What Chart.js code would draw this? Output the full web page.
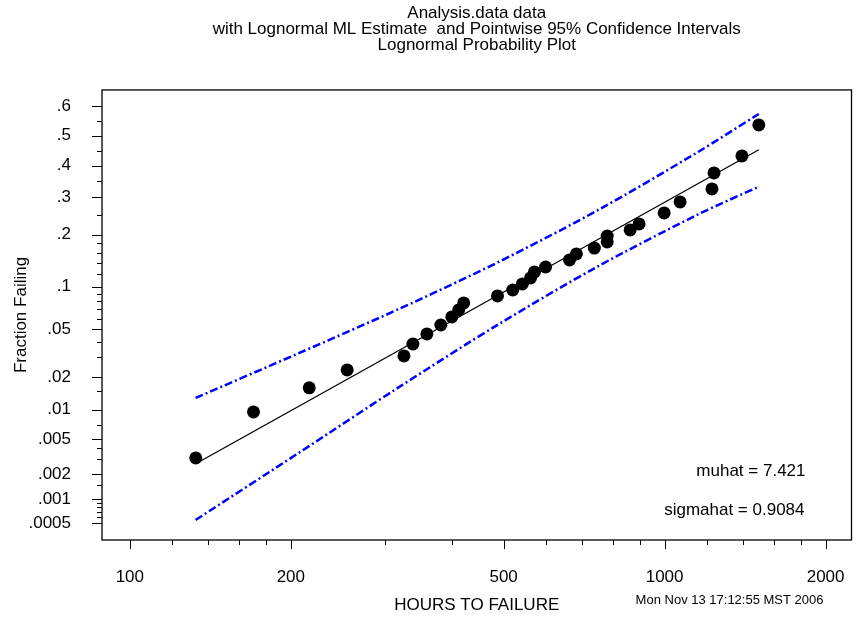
<!DOCTYPE html>
<html>
<head>
<meta charset="utf-8">
<title>Lognormal Probability Plot</title>
<script src="https://cdn.jsdelivr.net/npm/chart.js@4.4.1/dist/chart.umd.min.js"></script>
<style>
  html, body { margin: 0; padding: 0; background: #fff; }
  canvas { display: block; }
</style>
</head>
<body>
<canvas id="prob-plot" width="858" height="617"></canvas>
<script>
(function () {
  'use strict';

  // failure times (hours) and their plotting positions
  var hours = [132.8, 170.3, 216.5, 254.9, 325.5, 338.3, 359.3, 381.5, 400, 412, 421, 487, 520, 542, 561.5,
    571, 599, 664, 684, 739, 781, 781, 862, 896, 998, 1069, 1226, 1237, 1395, 1500];
  var fractionFailing = [0.00309, 0.00946, 0.0161, 0.0233, 0.0307, 0.0384, 0.0461, 0.0539, 0.0618, 0.0694,
    0.0777, 0.0868, 0.0950, 0.104, 0.1135, 0.1236, 0.1324, 0.1457, 0.1577, 0.170, 0.1834, 0.197, 0.2117,
    0.2268, 0.2559, 0.2869, 0.3256, 0.376, 0.4319, 0.5366];

  // lognormal ML estimates
  var muhat = 7.421;
  var sigmahat = 0.9084;
  var fitHours = [132.8, 1500];

  // pointwise 95% confidence bands
  var bandHours = [132.7, 207.4, 318.6, 489.3, 751.6, 1154.6, 1500];
  var upperBand = [0.01293, 0.03246, 0.0705, 0.1418, 0.2642, 0.4453, 0.5735];
  var lowerBand = [0.000547, 0.00355, 0.01633, 0.0546, 0.1339, 0.2518, 0.3327];

  var xMajorTicks = [100, 200, 500, 1000, 2000];
  var xMinorTicks = [120, 140, 160, 180, 300, 400, 600, 700, 800, 900, 1200, 1400, 1600, 1800];
  var xRange = [88.7, 2236];

  var yMajorTicks = [0.0005, 0.001, 0.002, 0.005, 0.01, 0.02, 0.05, 0.1, 0.2, 0.3, 0.4, 0.5, 0.6];
  var yTickLabels = ['.0005', '.001', '.002', '.005', '.01', '.02', '.05', '.1', '.2', '.3', '.4', '.5', '.6'];
  var yMinorTicks = [0.55, 0.45, 0.35, 0.25, 0.18, 0.16, 0.14, 0.12, 0.09, 0.08, 0.07, 0.06, 0.04, 0.03,
    0.015, 0.007, 0.004, 0.003, 0.0015, 0.0009, 0.0008, 0.0007, 0.0006];
  var yRange = [0.000296, 0.6515];

  var titleLines = ['Analysis.data data',
    'with Lognormal ML Estimate  and Pointwise 95% Confidence Intervals',
    'Lognormal Probability Plot'];
  var stamp = 'Mon Nov 13 17:12:55 MST 2006';

  var FONT = '"Liberation Sans", Arial, Helvetica, sans-serif';

  // standard normal quantile (Acklam's rational approximation)
  function qnorm(p) {
    var a = [-3.969683028665376e+01, 2.209460984245205e+02, -2.759285104469687e+02,
      1.383577518672690e+02, -3.066479806614716e+01, 2.506628277459239e+00];
    var b = [-5.447609879822406e+01, 1.615858368580409e+02, -1.556989798598866e+02,
      6.680131188771972e+01, -1.328068155288572e+01];
    var c = [-7.784894002430293e-03, -3.223964580411365e-01, -2.400758277161838e+00,
      -2.549732539343734e+00, 4.374664141464968e+00, 2.938163982698783e+00];
    var d = [7.784695709041462e-03, 3.224671290700398e-01, 2.445134137142996e+00,
      3.754408661907416e+00];
    var plow = 0.02425, q, r;
    if (p < plow) {
      q = Math.sqrt(-2 * Math.log(p));
      return (((((c[0] * q + c[1]) * q + c[2]) * q + c[3]) * q + c[4]) * q + c[5]) /
        ((((d[0] * q + d[1]) * q + d[2]) * q + d[3]) * q + 1);
    }
    if (p > 1 - plow) {
      q = Math.sqrt(-2 * Math.log(1 - p));
      return -(((((c[0] * q + c[1]) * q + c[2]) * q + c[3]) * q + c[4]) * q + c[5]) /
        ((((d[0] * q + d[1]) * q + d[2]) * q + d[3]) * q + 1);
    }
    q = p - 0.5;
    r = q * q;
    return (((((a[0] * r + a[1]) * r + a[2]) * r + a[3]) * r + a[4]) * r + a[5]) * q /
      (((((b[0] * r + b[1]) * r + b[2]) * r + b[3]) * r + b[4]) * r + 1);
  }

  function toPoints(xs, ps) {
    return xs.map(function (x, i) { return { x: x, y: qnorm(ps[i]) }; });
  }

  var fitLine = fitHours.map(function (t) {
    return { x: t, y: (Math.log(t) - muhat) / sigmahat };
  });

  // frame, tick marks and the text annotations
  var decorations = {
    id: 'decorations',
    afterDraw: function (chart) {
      var ctx = chart.ctx;
      var area = chart.chartArea;
      var xs = chart.scales.x;
      var ys = chart.scales.y;

      ctx.save();
      ctx.strokeStyle = '#000';
      ctx.lineWidth = 1.3;
      ctx.strokeRect(area.left, area.top, area.right - area.left, area.bottom - area.top);

      ctx.lineWidth = 1;
      ctx.beginPath();
      function xTick(v, len) {
        var px = Math.round(xs.getPixelForValue(v)) + 0.5;
        ctx.moveTo(px, area.bottom);
        ctx.lineTo(px, area.bottom + len);
      }
      function yTick(p, len) {
        var py = Math.round(ys.getPixelForValue(qnorm(p))) + 0.5;
        ctx.moveTo(area.left, py);
        ctx.lineTo(area.left - len, py);
      }
      xMajorTicks.forEach(function (v) { xTick(v, 9); });
      xMinorTicks.forEach(function (v) { xTick(v, 5); });
      yMajorTicks.forEach(function (p) { yTick(p, 10); });
      yMinorTicks.forEach(function (p) { yTick(p, 5); });
      ctx.stroke();

      ctx.fillStyle = '#000';
      ctx.textBaseline = 'middle';
      ctx.textAlign = 'right';
      ctx.font = '17px ' + FONT;
      ctx.fillText('muhat = ' + muhat.toFixed(3), area.right - 46, 471);
      ctx.fillText('sigmahat = ' + sigmahat.toFixed(4), area.right - 47, 510);
      ctx.font = '13px ' + FONT;
      ctx.fillText(stamp, area.right - 28, 600);
      ctx.restore();
    }
  };

  var canvas = document.getElementById('prob-plot');
  Chart.defaults.font.family = FONT;
  Chart.defaults.font.size = 17;
  Chart.defaults.color = '#000';

  new Chart(canvas, {
    type: 'scatter',
    data: {
      datasets: [
        {
          label: 'Data',
          data: toPoints(hours, fractionFailing),
          pointRadius: 6.5,
          pointBackgroundColor: '#000',
          pointBorderWidth: 0,
          showLine: false
        },
        {
          label: 'ML fit',
          data: fitLine,
          showLine: true,
          borderColor: '#000',
          borderWidth: 1.3,
          pointRadius: 0,
          tension: 0
        },
        {
          label: 'Upper 95%',
          data: toPoints(bandHours, upperBand),
          showLine: true,
          borderColor: '#0000ff',
          borderWidth: 2.5,
          borderDash: [8, 3, 2, 3],
          pointRadius: 0,
          tension: 0.3
        },
        {
          label: 'Lower 95%',
          data: toPoints(bandHours, lowerBand),
          showLine: true,
          borderColor: '#0000ff',
          borderWidth: 2.5,
          borderDash: [8, 3, 2, 3],
          pointRadius: 0,
          tension: 0.3
        }
      ]
    },
    options: {
      responsive: false,
      animation: false,
      devicePixelRatio: 1,
      layout: { padding: { left: 0, right: 3, top: 0, bottom: 0 } },
      plugins: {
        legend: { display: false },
        tooltip: { enabled: false },
        title: {
          display: true,
          text: titleLines,
          fullSize: false,
          color: '#000',
          font: { size: 17, weight: 'normal', lineHeight: 0.95 },
          padding: { top: 5, bottom: 36.5 }
        }
      },
      scales: {
        x: {
          type: 'logarithmic',
          min: xRange[0],
          max: xRange[1],
          grid: { display: false },
          border: { display: false },
          afterBuildTicks: function (scale) {
            scale.ticks = xMajorTicks.map(function (v) { return { value: v }; });
          },
          afterFit: function (scale) {
            scale.height = 77;
            scale.paddingLeft = 0;
            scale.paddingRight = 0;
          },
          ticks: {
            autoSkip: false,
            maxRotation: 0,
            padding: 19,
            callback: function (value, index) { return String(xMajorTicks[index]); }
          },
          title: {
            display: true,
            text: 'HOURS TO FAILURE',
            padding: { top: 0, bottom: 1 }
          }
        },
        y: {
          type: 'linear',
          min: qnorm(yRange[0]),
          max: qnorm(yRange[1]),
          grid: { display: false },
          border: { display: false },
          afterBuildTicks: function (scale) {
            scale.ticks = yMajorTicks.map(function (p) { return { value: qnorm(p) }; });
          },
          afterFit: function (scale) {
            scale.width = 102;
            scale.paddingTop = 0;
            scale.paddingBottom = 0;
          },
          ticks: {
            autoSkip: false,
            padding: 23,
            callback: function (value, index) { return yTickLabels[index]; }
          },
          title: {
            display: true,
            text: 'Fraction Failing',
            padding: { top: 11, bottom: 0 }
          }
        }
      }
    },
    plugins: [decorations]
  });
})();
</script>
</body>
</html>
